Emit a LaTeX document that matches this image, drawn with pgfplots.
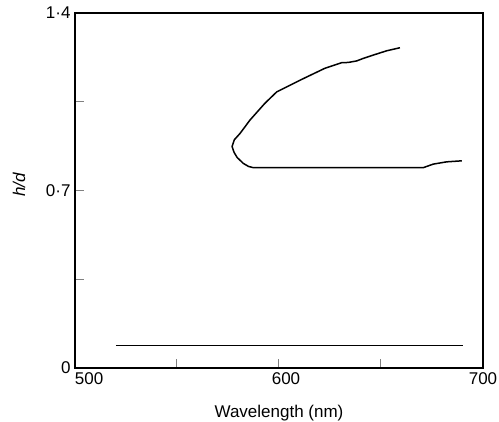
\documentclass[border=0pt]{standalone}
\usepackage{fontspec}
\setmainfont{Liberation Sans}
\usepackage{pgfplots}
\pgfplotsset{compat=1.18}
\begin{document}
\begin{tikzpicture}
\begin{axis}[
  name=ax,
  at={(0,0)}, anchor=south west,
  scale only axis,
  width=408pt, height=355pt,
  xmin=500, xmax=700, ymin=0, ymax=1.4,
  xtick={500,550,600,650,700},
  xticklabels={\rlap{500},,{\hspace{14pt}600},,700},
  ytick={0,0.35,0.7,1.05,1.4},
  yticklabels={0,,0·7,,1·4},
  xtick pos=bottom, ytick pos=left,
  tick align=inside,
  major tick length=9pt,
  xtick style={line width=1pt},
  ytick style={line width=1pt},
  tick label style={font=\fontsize{17}{20}\selectfont},
  xticklabel style={yshift=-1pt},
  yticklabel style={xshift=-1pt},
  axis line style={line width=1.4pt},
  xlabel={Wavelength (nm)},
  ylabel={\itshape h/d},
  every axis x label/.style={at={(rel axis cs:0.5,0)}, anchor=north, yshift=-34pt, font=\fontsize{17}{20}\selectfont},
  every axis y label/.style={at={(axis description cs:-0.137,0.515)}, anchor=center, rotate=90, font=\fontsize{17}{20}\selectfont},
]
\addplot[black, line width=1.5pt, line join=round] coordinates {
(659.3,1.263) (652.8,1.251) (646.2,1.234) (641,1.220) (638.1,1.211) (634,1.205) (630.7,1.204)
(622.5,1.182) (611.1,1.138) (598.9,1.089) (593.1,1.044) (585.8,0.978)
(580.9,0.925) (578.1,0.900) (577.0,0.873) (578.0,0.850) (579.5,0.830) (582.5,0.807) (585,0.795)
(587.4,0.790) (670.7,0.790) (675.6,0.804) (682.2,0.813) (689.6,0.817)
};
\addplot[black, line width=1.5pt] coordinates {(520,0.088) (690,0.088)};
\end{axis}
\pgfresetboundingbox
\path[use as bounding box] (-75pt,-54pt) rectangle (424pt,368pt);
\end{tikzpicture}
\end{document}
